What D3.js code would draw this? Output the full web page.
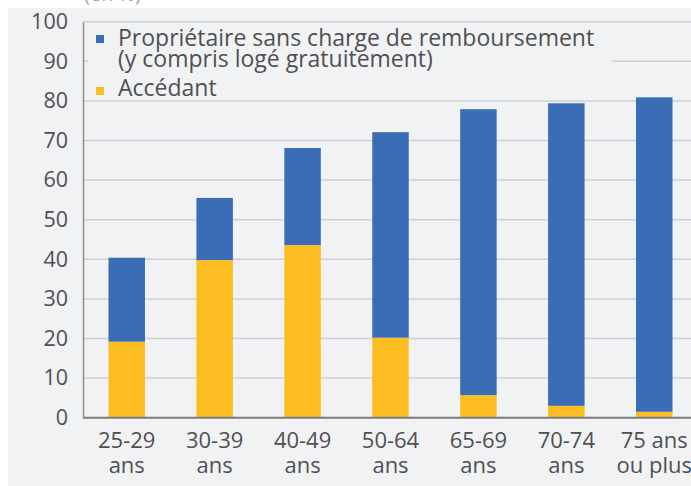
<!DOCTYPE html>
<html>
<head>
<meta charset="utf-8">
<script src="https://cdn.jsdelivr.net/npm/d3@7"></script>
<style>
  body { margin: 0; background: #ffffff; }
  text { font-family: "Open Sans", sans-serif; }
</style>
</head>
<body>
<div id="chart"></div>
<script>
// tranches d'age
const categories = ["25-29 ans", "30-39 ans", "40-49 ans", "50-64 ans", "65-69 ans", "70-74 ans", "75 ans ou plus"];
const tick_labels = [["25-29", "ans"], ["30-39", "ans"], ["40-49", "ans"], ["50-64", "ans"], ["65-69", "ans"], ["70-74", "ans"], ["75 ans", "ou plus"]];

// en %
const accedant = [19.2, 39.8, 43.6, 20.2, 5.7, 3.0, 1.5];
const proprietaire = [21.2, 15.7, 24.5, 51.9, 72.2, 76.4, 79.4];

const y_ticks = [0, 10, 20, 30, 40, 50, 60, 70, 80, 90, 100];

const series_names = ["Propriétaire sans charge de remboursement", "Accédant"];
const color_blue = "#3b6cb6";
const color_yellow = "#fcbd22";
const text_color = "#505053";

const width_chart = 691;
const height_chart = 486;

const svg = d3.select("#chart")
   .append("svg")
   .attr("width", width_chart)
   .attr("height", height_chart);

// fond gris
svg.append("rect")
   .attr("x", 8)
   .attr("y", 8)
   .attr("width", width_chart - 8)
   .attr("height", height_chart - 8)
   .attr("fill", "#f1f2f4");

// unité, coupée en haut de l'image
svg.append("text")
   .attr("x", 84)
   .attr("y", 1)
   .attr("font-size", 20)
   .attr("fill", "#a4a4a6")
   .text("(en %)");

const plot_left = 83;
const plot_right = 698;

var x = d3.scaleBand()
   .domain(categories)
   .range([plot_left, plot_right])
   .paddingInner(0.585)
   .paddingOuter(0.29);

var y = d3.scaleLinear()
   .domain([0, 100])
   .range([417.7, 21.7]);

// quadrillage
svg.append("g")
   .selectAll("line")
   .data(y_ticks.filter(d => d > 0))
   .join("line")
   .attr("x1", plot_left)
   .attr("x2", width_chart)
   .attr("y1", d => y(d))
   .attr("y2", d => y(d))
   .attr("stroke", "#cfd0d3")
   .attr("stroke-width", 1.5);

// légende (cache le quadrillage derrière)
const legend = svg.append("g");

legend.append("rect")
   .attr("x", 88)
   .attr("y", 27)
   .attr("width", 524)
   .attr("height", 70)
   .attr("fill", "#f1f2f4");

legend.append("rect")
   .attr("x", 96)
   .attr("y", 35)
   .attr("width", 8)
   .attr("height", 8)
   .attr("fill", color_blue);

legend.append("text")
   .attr("x", 118)
   .attr("y", 46)
   .attr("font-size", 23)
   .attr("fill", text_color)
   .text(series_names[0]);

legend.append("text")
   .attr("x", 118)
   .attr("y", 67)
   .attr("font-size", 23)
   .attr("fill", text_color)
   .text("(y compris logé gratuitement)");

legend.append("rect")
   .attr("x", 96)
   .attr("y", 87)
   .attr("width", 8)
   .attr("height", 8)
   .attr("fill", color_yellow);

legend.append("text")
   .attr("x", 118)
   .attr("y", 96)
   .attr("font-size", 23)
   .attr("fill", text_color)
   .text(series_names[1]);

// barres empilées
const table = categories.map((c, i) => ({cat: c, acc: accedant[i], prop: proprietaire[i]}));
const stacked = d3.stack().keys(["acc", "prop"])(table);
const colors = {acc: color_yellow, prop: color_blue};

svg.append("g")
   .selectAll("g")
   .data(stacked)
   .join("g")
   .attr("fill", d => colors[d.key])
   .selectAll("rect")
   .data(d => d)
   .join("rect")
   .attr("x", d => x(d.data.cat))
   .attr("width", x.bandwidth())
   .attr("y", d => y(d[1]))
   .attr("height", d => y(d[0]) - y(d[1]));

// axe des y
const y_axis = svg.append("g")
   .attr("transform", "translate(" + plot_left + ",0)")
   .call(d3.axisLeft(y).tickValues(y_ticks).tickSize(0).tickPadding(15));

y_axis.select(".domain")
   .attr("stroke", "#8e8e90")
   .attr("stroke-width", 1.5);

y_axis.selectAll("text")
   .attr("font-size", 21.5)
   .attr("font-family", "Open Sans")
   .attr("fill", text_color);

// axe des x
const x_axis = svg.append("g")
   .attr("transform", "translate(0," + y(0) + ")")
   .call(d3.axisBottom(x).tickSize(0).tickFormat(""));

x_axis.select(".domain").remove();

x_axis.append("line")
   .attr("x1", plot_left)
   .attr("x2", width_chart)
   .attr("y1", 0)
   .attr("y2", 0)
   .attr("stroke", "#7c7c7e")
   .attr("stroke-width", 2);

x_axis.selectAll(".tick text")
   .attr("font-size", 22)
   .attr("font-family", "Open Sans")
   .attr("fill", text_color)
   .attr("dy", null)
   .attr("y", 0)
   .each(function(d, i) {
      const t = d3.select(this);
      tick_labels[i].forEach((line, k) => {
         t.append("tspan")
            .attr("x", 0)
            .attr("y", 30 + k * 25)
            .text(line);
      });
   });
</script>
</body>
</html>
